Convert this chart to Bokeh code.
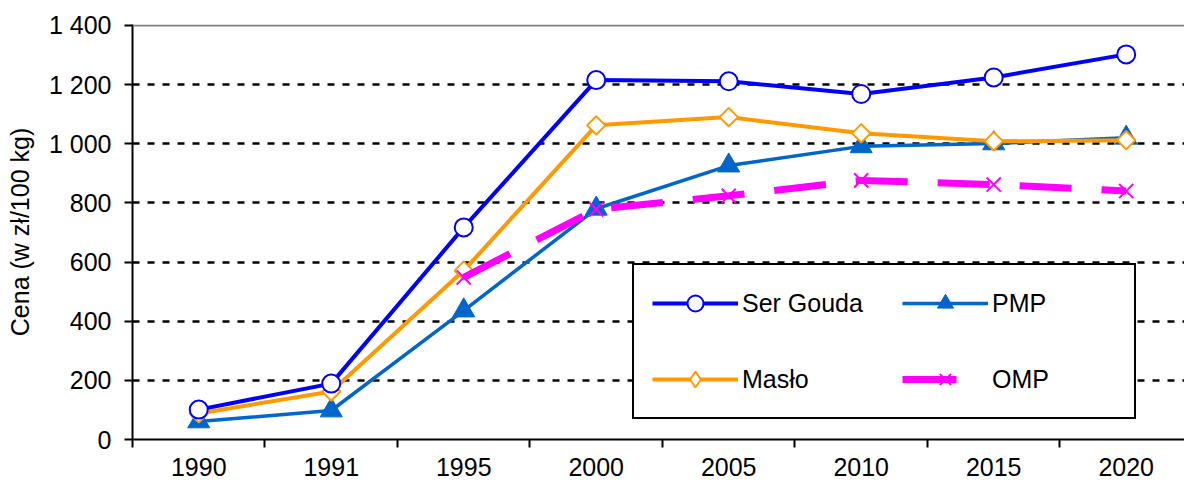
import math
from bokeh.plotting import figure
from bokeh.models import FixedTicker, Span, Legend, LegendItem, Range1d
from bokeh.embed import file_html
from bokeh.resources import INLINE

nan = float("nan")

years = ["1990", "1991", "1995", "2000", "2005", "2010", "2015", "2020"]
ser_gouda = [101, 189, 717, 1215, 1211, 1168, 1224, 1302]
maslo = [88, 162, 571, 1062, 1090, 1035, 1008, 1012]
pmp = [61, 98, 436, 780, 926, 991, 1001, 1020]
omp = [nan, nan, 548, 778, 824, 876, 862, 840]

y_ticks = [0, 200, 400, 600, 800, 1000, 1200, 1400]
y_tick_labels = ["0", "200", "400", "600", "800", "1 000", "1 200", "1 400"]
y_label = "Cena (w zł/100 kg)"

FONT = "Liberation Sans"

xs = [i + 0.5 for i in range(len(years))]
bounds = list(range(len(years) + 1))

p = figure(width=1184, height=489, output_backend="svg", toolbar_location=None,
           x_range=Range1d(0, 7.94), y_range=Range1d(0, 1403),
           min_border_left=132, min_border_right=0, min_border_top=24, min_border_bottom=50)
p.outline_line_color = None
p.background_fill_color = "white"
p.border_fill_color = "white"

# grid
p.xgrid.grid_line_color = None
p.ygrid.ticker = FixedTicker(ticks=y_ticks[1:-1])
p.ygrid.grid_line_color = "black"
p.ygrid.grid_line_width = 2.5
p.ygrid.grid_line_dash = "7 8"
p.add_layout(Span(location=y_ticks[-1], dimension="width", line_color="#808080", line_width=2))

# y axis
ya = p.yaxis[0]
ya.ticker = FixedTicker(ticks=y_ticks)
ya.major_label_overrides = {t: l for t, l in zip(y_ticks, y_tick_labels)}
ya.axis_line_width = 2
ya.axis_line_color = "black"
ya.major_tick_line_width = 2
ya.major_tick_line_color = "black"
ya.major_tick_out = 8
ya.major_tick_in = 0
ya.minor_tick_line_color = None
ya.major_label_text_font = FONT
ya.major_label_text_font_size = "25px"
ya.major_label_text_color = "black"
ya.major_label_standoff = 13
ya.axis_label = y_label
ya.axis_label_text_font = FONT
ya.axis_label_text_font_size = "25px"
ya.axis_label_text_font_style = "normal"
ya.axis_label_text_color = "black"
ya.axis_label_standoff = 12

# x axis
xa = p.xaxis[0]
xa.ticker = FixedTicker(ticks=xs, minor_ticks=bounds)
xa.major_label_overrides = {x: y for x, y in zip(xs, years)}
xa.axis_line_width = 2
xa.axis_line_color = "black"
xa.major_tick_line_color = None
xa.major_tick_out = 8
xa.major_tick_in = 0
xa.minor_tick_line_color = "black"
xa.minor_tick_line_width = 2
xa.minor_tick_out = 8
xa.minor_tick_in = 0
xa.major_label_text_font = FONT
xa.major_label_text_font_size = "25px"
xa.major_label_text_color = "black"
xa.major_label_standoff = 10

# series
l_pmp = p.line(xs, pmp, line_color="#0066CC", line_width=3.5, line_join="round")
s_pmp = p.scatter(xs, pmp, marker="triangle", size=22, fill_color="#0066CC", line_color="#0066CC")

l_ms = p.line(xs, maslo, line_color="#FF9900", line_width=4, line_join="round")
s_ms = p.scatter(xs, maslo, marker="square", angle=math.pi / 4, size=13, fill_color="white",
                 line_color="#FF9900", line_width=2)
# legend-only marker (single empty point)
s_ms_leg = p.scatter([nan], [nan], marker="diamond", size=16, fill_color="white",
                     line_color="#FF9900", line_width=2)

l_sg = p.line(xs, ser_gouda, line_color="#0000FF", line_width=4, line_join="round")
s_sg = p.scatter(xs, ser_gouda, marker="circle", size=18, fill_color="white",
                 line_color="#0000FF", line_width=2)

l_omp = p.line(xs, omp, line_color="#FF00FF", line_width=7, line_dash="52 30")
s_omp = p.scatter(xs, omp, marker="x", size=20, line_color="#FF00FF", line_width=2)
# legend-only line: a single dash
l_omp_leg = p.line([nan], [nan], line_color="#FF00FF", line_width=7, line_dash="54 200")

legend = Legend(items=[
    LegendItem(label="Ser Gouda", renderers=[l_sg, s_sg]),
    LegendItem(label="Masło", renderers=[l_ms, s_ms_leg]),
    LegendItem(label="PMP", renderers=[l_pmp, s_pmp]),
    LegendItem(label="OMP", renderers=[l_omp_leg, s_omp]),
], location=(500, 20), ncols=2)
legend.glyph_width = 86
legend.glyph_height = 40
legend.label_height = 40
legend.label_width = 124
legend.label_standoff = 4
legend.spacing = 36
legend.padding = 18
legend.margin = 0
legend.border_line_color = "black"
legend.border_line_alpha = 1
legend.border_line_width = 2
legend.background_fill_color = "white"
legend.background_fill_alpha = 1
legend.label_text_font = FONT
legend.label_text_font_size = "25px"
legend.label_text_color = "black"
p.add_layout(legend)

open("out.html", "w").write(file_html(p, INLINE))
